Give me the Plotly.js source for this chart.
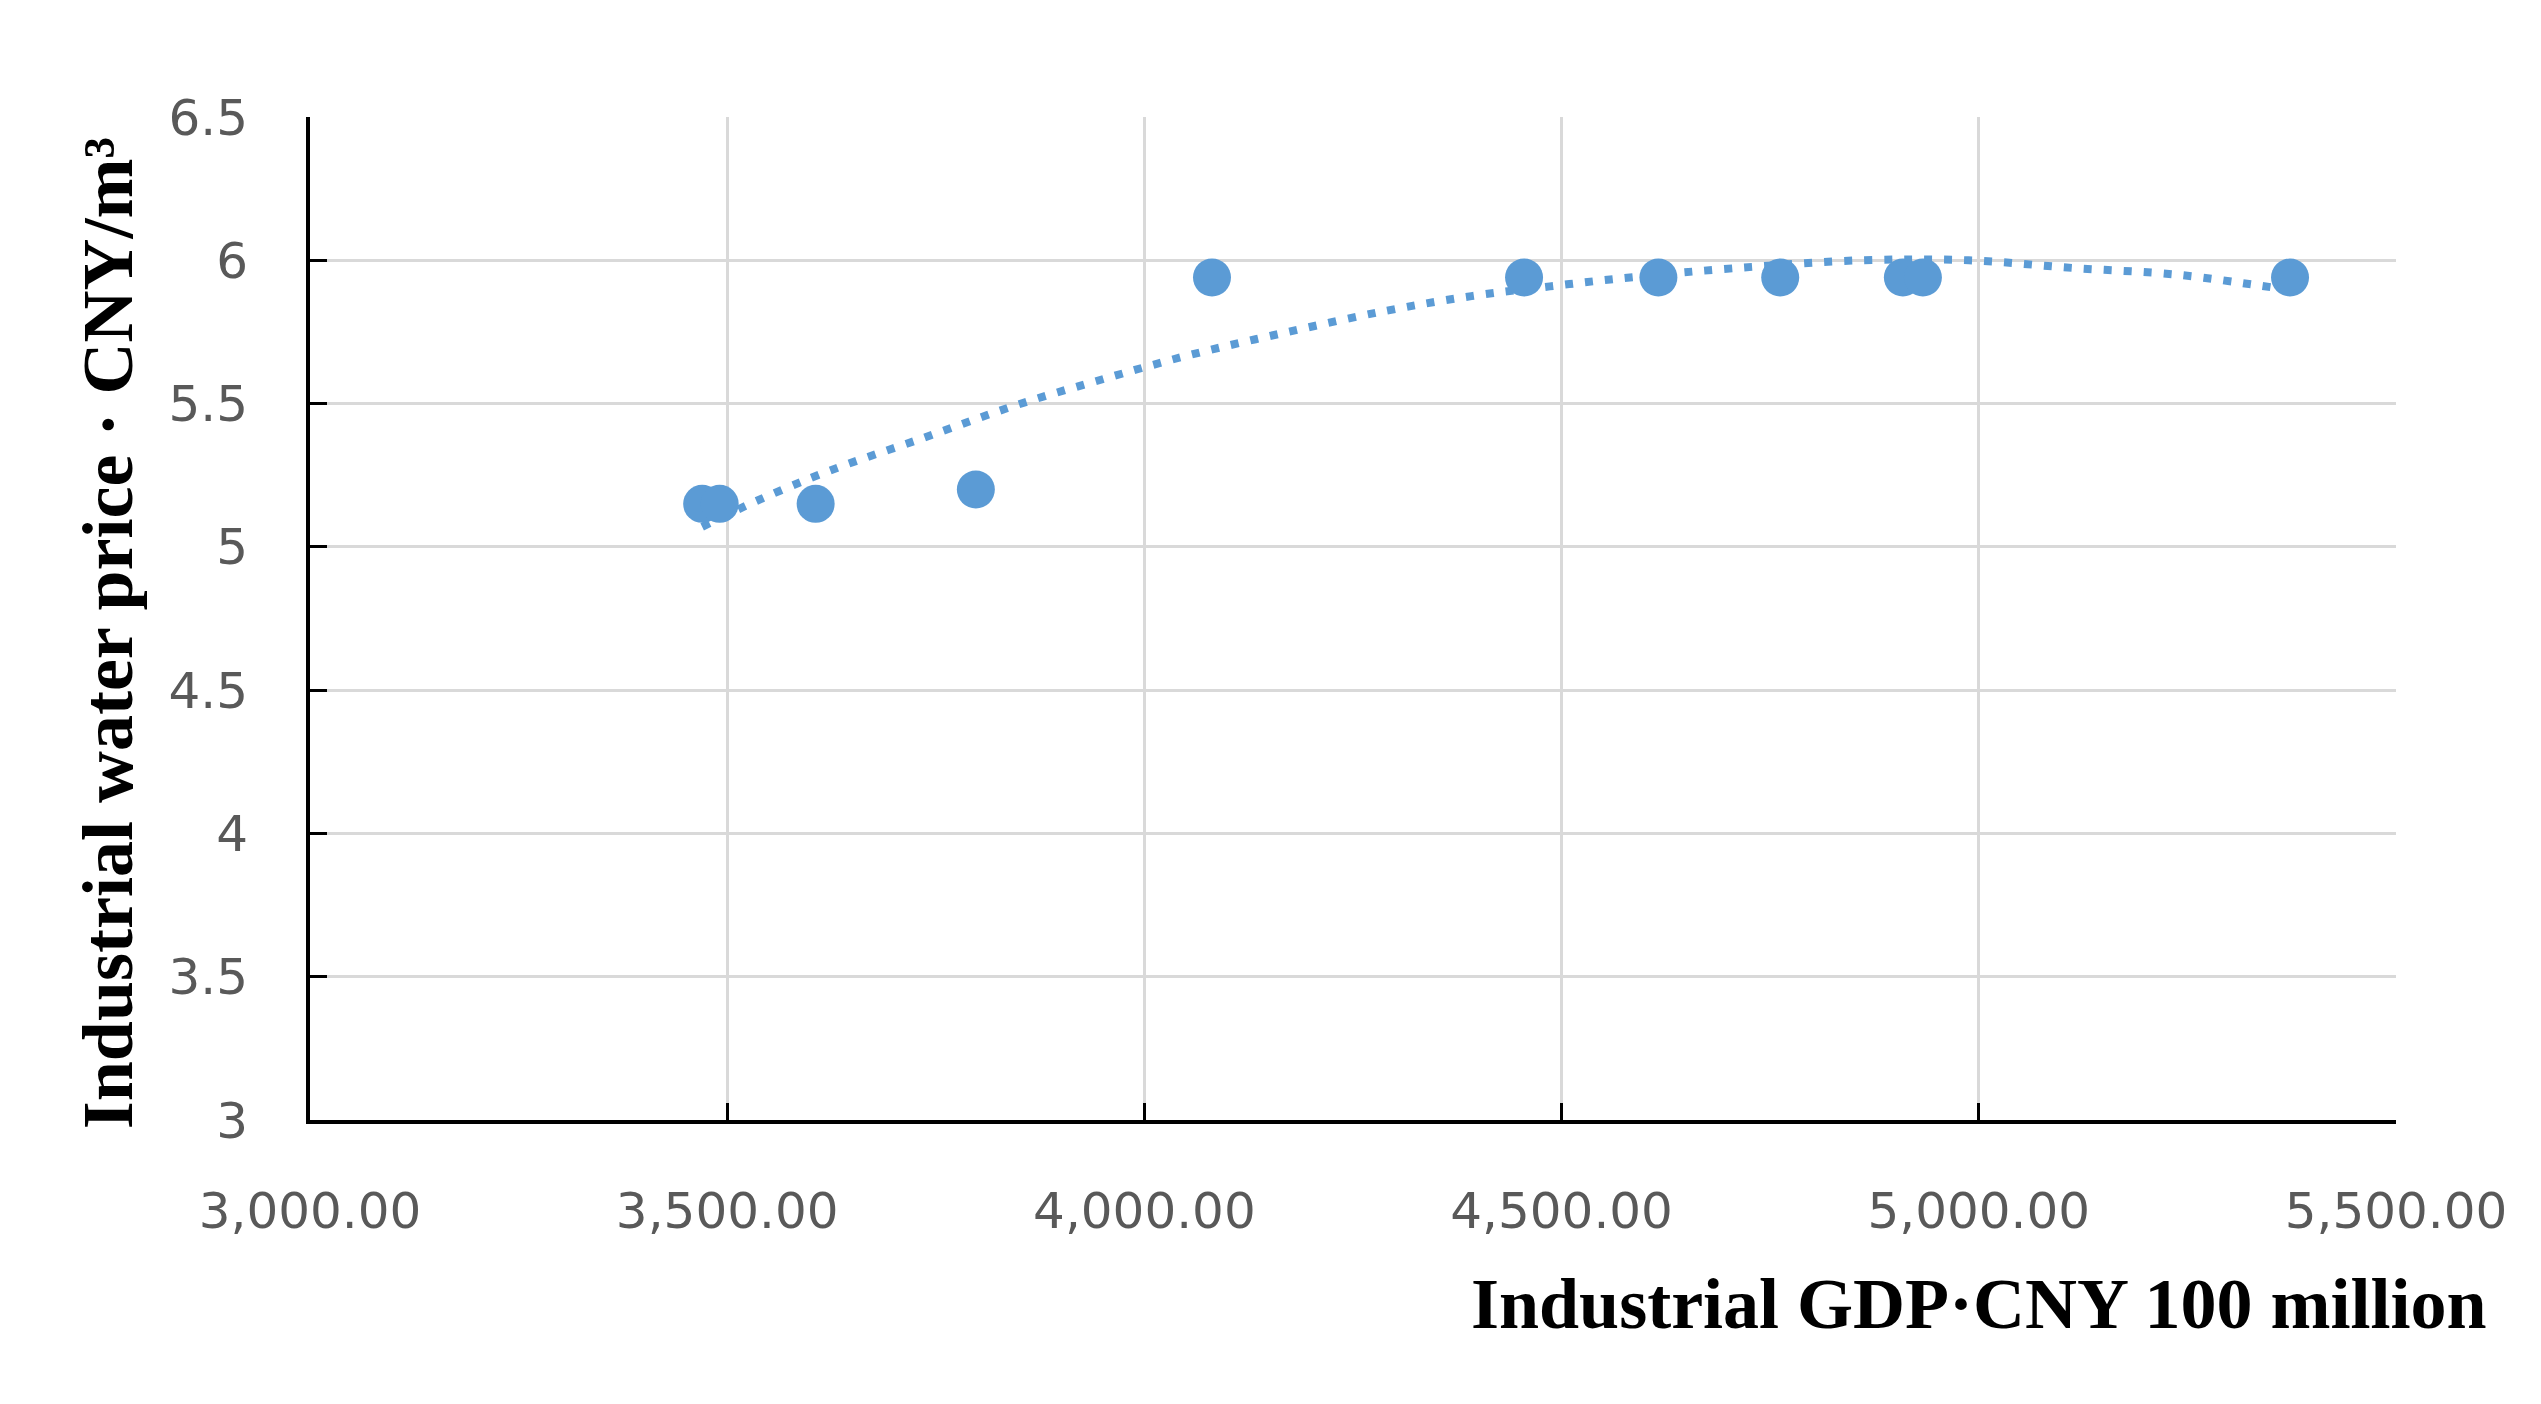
<!DOCTYPE html>
<html>
<head>
<meta charset="utf-8">
<script src="https://cdn.plot.ly/plotly-3.0.1.min.js"></script>
<style>
  html, body { margin: 0; padding: 0; background: #ffffff; }
  #chart { width: 2541px; height: 1404px; }
</style>
</head>
<body>
<div id="chart"></div>
<script>
// observed points: industrial GDP (CNY 100 million) vs industrial water price (CNY/m3)
const gdp = [3470, 3491, 3606, 3798, 4081, 4455, 4616, 4762, 4909, 4933, 5373];
const price = [5.15, 5.15, 5.15, 5.2, 5.94, 5.94, 5.94, 5.94, 5.94, 5.94, 5.94];

// dotted trend curve
const trendX = [3470, 3535, 3622, 3735, 3847, 3962, 4055, 4172, 4290, 4392, 4486, 4585, 4710, 4859, 4988, 5114, 5237, 5336, 5375];
const trendY = [5.07, 5.16, 5.265, 5.38, 5.495, 5.595, 5.67, 5.75, 5.824, 5.875, 5.909, 5.941, 5.973, 6.0, 6.0, 5.973, 5.95, 5.912, 5.895];

// axis ticks
const xTicks = [3000, 3500, 4000, 4500, 5000, 5500];
const xTickText = ["3,000.00", "3,500.00", "4,000.00", "4,500.00", "5,000.00", "5,500.00"];
const yTicks = [3, 3.5, 4, 4.5, 5, 5.5, 6, 6.5];
const yTickText = ["3", "3.5", "4", "4.5", "5", "5.5", "6", "6.5"];

const blue = "#5b9bd5";
const tickFont = { family: "DejaVu Sans", size: 50, color: "#595959" };
const titleFont = { family: "Liberation Serif", size: 72, color: "#000000", weight: "bold" };

const trendTrace = {
  x: trendX,
  y: trendY,
  type: "scatter",
  mode: "lines",
  line: { color: blue, width: 8, dash: "8px,12px", shape: "spline", smoothing: 1 },
  hoverinfo: "skip"
};

const pointTrace = {
  x: gdp,
  y: price,
  type: "scatter",
  mode: "markers",
  marker: { color: blue, size: 38, line: { width: 0 } }
};

const axisCommon = {
  showline: true,
  linecolor: "#000000",
  linewidth: 4,
  showgrid: true,
  gridcolor: "#d9d9d9",
  gridwidth: 3,
  zeroline: false,
  ticks: "inside",
  ticklen: 17,
  tickwidth: 3,
  tickcolor: "#000000",
  tickfont: tickFont,
  tickmode: "array"
};

const layout = {
  width: 2541,
  height: 1404,
  paper_bgcolor: "#ffffff",
  plot_bgcolor: "#ffffff",
  showlegend: false,
  margin: { l: 310, r: 145, t: 117, b: 284 },
  xaxis: {
    ...axisCommon,
    range: [3000, 5500],
    tickvals: xTicks,
    ticktext: xTickText,
    ticklabelstandoff: 44
  },
  yaxis: {
    ...axisCommon,
    range: [3, 6.5],
    tickvals: yTicks,
    ticktext: yTickText,
    ticklabelstandoff: 48
  },
  annotations: [
    {
      text: "Industrial GDP·CNY 100 million",
      xref: "paper", yref: "paper",
      x: (2488 - 310) / 2086, y: -0.183,
      xanchor: "right", yanchor: "middle",
      showarrow: false,
      font: titleFont
    },
    {
      text: "Industrial water price · CNY/m³",
      xref: "paper", yref: "paper",
      x: -0.097, y: 0.485,
      xanchor: "center", yanchor: "middle",
      textangle: -90,
      showarrow: false,
      font: titleFont
    }
  ]
};

Plotly.newPlot("chart", [trendTrace, pointTrace], layout, { displayModeBar: false, staticPlot: true });
</script>
</body>
</html>
